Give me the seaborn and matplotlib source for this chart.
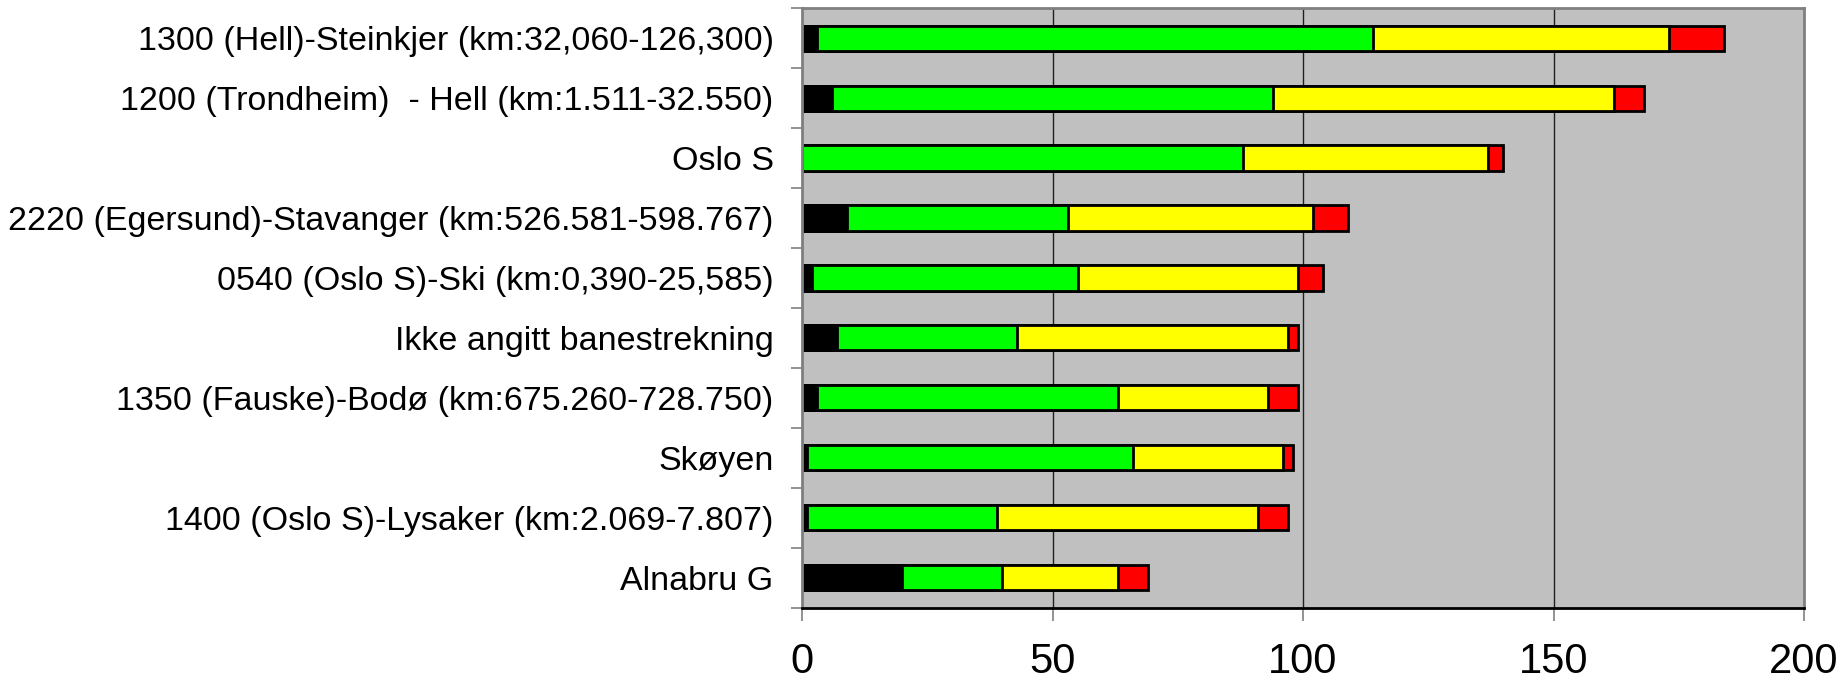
import numpy as np
import matplotlib
matplotlib.use('Agg')
import matplotlib.pyplot as plt
from matplotlib import font_manager
import seaborn as sns

# sections (top to bottom) and count per category
sections = ['1300 (Hell)-Steinkjer (km:32,060-126,300)',
            '1200 (Trondheim)  - Hell (km:1.511-32.550)',
            'Oslo S',
            '2220 (Egersund)-Stavanger (km:526.581-598.767)',
            '0540 (Oslo S)-Ski (km:0,390-25,585)',
            'Ikke angitt banestrekning',
            '1350 (Fauske)-Bodø (km:675.260-728.750)',
            'Skøyen',
            '1400 (Oslo S)-Lysaker (km:2.069-7.807)',
            'Alnabru G']
black = [3, 6, 0, 9, 2, 7, 3, 1, 1, 20]
green = [111, 88, 88, 44, 53, 36, 60, 65, 38, 20]
yellow = [59, 68, 49, 49, 44, 54, 30, 30, 52, 23]
red = [11, 6, 3, 7, 5, 2, 6, 2, 6, 6]

colors = ['#000000', '#00FF00', '#FFFF00', '#FF0000']

sns.set_theme(style='white')
names = {f.name for f in font_manager.fontManager.ttflist}
plt.rcParams['font.family'] = ['Liberation Sans', 'DejaVu Sans']
plt.rcParams['text.color'] = 'black'
plt.rcParams['xtick.labelcolor'] = 'black'
plt.rcParams['ytick.labelcolor'] = 'black'
ylab_font = 'Liberation Sans Narrow' if 'Liberation Sans Narrow' in names else 'Liberation Sans'
ylab_size = 28 if ylab_font == 'Liberation Sans Narrow' else 24.5

fig, ax = plt.subplots(figsize=(18.45, 6.86), dpi=100)
fig.subplots_adjust(left=0.4347, right=0.9778, top=0.988, bottom=0.1143)
ax.set_facecolor('#C0C0C0')

# stacked bars: draw the running totals from longest to shortest
stack = np.cumsum(np.array([black, green, yellow, red]), axis=0)
for i in [3, 2, 1, 0]:
    sns.barplot(x=stack[i], y=sections, orient='h', color=colors[i],
                saturation=1, width=0.42, edgecolor='black', linewidth=2.0,
                errorbar=None, ax=ax)

ax.set_xlim(0, 200)
ax.set_xticks([0, 50, 100, 150, 200])
ax.set_ylim(9.5, -0.5)
ax.set_xlabel('')
ax.set_ylabel('')
ax.grid(axis='x', color='#202020', linewidth=1.0)
ax.set_axisbelow(True)

ax.set_yticks(np.arange(-0.5, 10, 1), minor=True)
ax.tick_params(axis='y', which='major', length=0, pad=20.5, labelcolor='black')
ax.tick_params(axis='y', which='minor', left=True, length=8, width=1.2, color='#808080')
ax.tick_params(axis='x', which='major', bottom=True, length=9, width=1.2,
               color='#808080', pad=16, labelsize=30, labelcolor='black')
for lab in ax.get_yticklabels():
    lab.set_fontfamily([ylab_font, 'DejaVu Sans'])
    lab.set_fontsize(ylab_size)

for side in ['top', 'right', 'left']:
    ax.spines[side].set_color('#808080')
    ax.spines[side].set_linewidth(2.0)
ax.spines['bottom'].set_color('black')
ax.spines['bottom'].set_linewidth(2.0)

fig.savefig('out.png', dpi=100)
